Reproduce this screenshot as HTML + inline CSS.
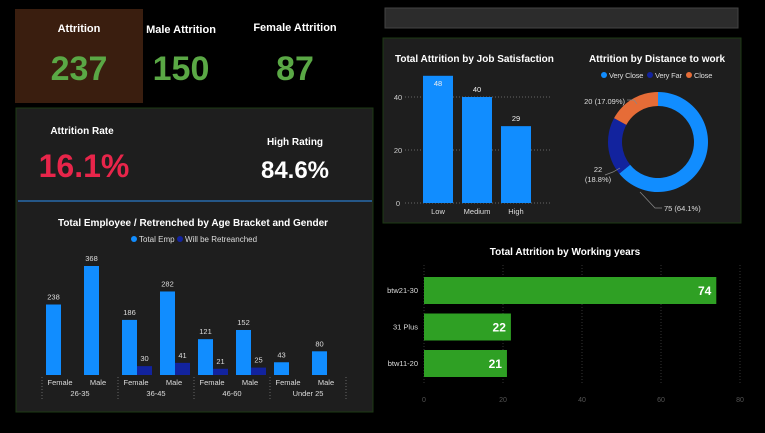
<!DOCTYPE html>
<html><head><meta charset="utf-8"><style>
body{margin:0;background:#000;width:765px;height:428px;overflow:hidden;font-family:"Liberation Sans",sans-serif;}
svg text{font-family:"Liberation Sans",sans-serif;}
</style></head><body>
<svg width="765" height="428" xmlns="http://www.w3.org/2000/svg">
<rect x="0" y="0" width="765" height="428" fill="#000"/>
<g>
<rect x="15" y="9" width="128" height="94" fill="#3a1e0f"/>
<text x="79" y="32" fill="#fff" font-size="11" font-weight="bold" text-anchor="middle">Attrition</text>
<text x="79" y="80" fill="#5aa845" font-size="34" font-weight="bold" text-anchor="middle">237</text>
<text x="181" y="33" fill="#fff" font-size="11" font-weight="bold" text-anchor="middle">Male Attrition</text>
<text x="181" y="80" fill="#5aa845" font-size="34" font-weight="bold" text-anchor="middle">150</text>
<text x="295" y="31" fill="#fff" font-size="11" font-weight="bold" text-anchor="middle">Female Attrition</text>
<text x="295" y="80" fill="#5aa845" font-size="34" font-weight="bold" text-anchor="middle">87</text>
</g>
<rect x="385" y="8" width="353" height="20" fill="#2c2c2c" stroke="#444"/>
<rect x="16" y="108" width="357" height="304" fill="#1e1e1e" stroke="#1d3a14"/>
<text x="82" y="134" fill="#fff" font-size="10" font-weight="bold" text-anchor="middle">Attrition Rate</text>
<text x="84" y="177" fill="#e8254a" font-size="32" font-weight="bold" text-anchor="middle">16.1%</text>
<text x="295" y="145" fill="#fff" font-size="10" font-weight="bold" text-anchor="middle">High Rating</text>
<text x="295" y="178" fill="#fff" font-size="24" font-weight="bold" text-anchor="middle">84.6%</text>
<line x1="18" y1="201" x2="372" y2="201" stroke="#2a7ac8" stroke-width="1.2"/>
<text x="193" y="226" fill="#fff" font-size="10" font-weight="bold" text-anchor="middle">Total Employee / Retrenched by Age Bracket and Gender</text>
<g>
<circle cx="134" cy="239" r="3" fill="#118dff"/><text x="139" y="242" fill="#ddd" font-size="8">Total Emp</text>
<circle cx="180" cy="239" r="3" fill="#12239e"/><text x="185" y="242" fill="#ddd" font-size="8">Will be Retreanched</text>
</g>
<g id="ageChart"></g>
<rect x="383" y="38" width="358" height="185" fill="#1e1e1e" stroke="#1d3a14"/>
<text x="395" y="62" fill="#fff" font-size="10" font-weight="bold">Total Attrition by Job Satisfaction</text>
<g id="jobChart"></g>
<text x="657" y="62" fill="#fff" font-size="10" font-weight="bold" text-anchor="middle">Attrition by Distance to work</text>
<g>
<circle cx="604" cy="75" r="3" fill="#118dff"/><text x="609" y="78" fill="#ddd" font-size="7.5" letter-spacing="-0.2">Very Close</text>
<circle cx="650" cy="75" r="3" fill="#12239e"/><text x="655" y="78" fill="#ddd" font-size="7.5" letter-spacing="-0.2">Very Far</text>
<circle cx="689" cy="75" r="3" fill="#e66c37"/><text x="694" y="78" fill="#ddd" font-size="7.5" letter-spacing="-0.2">Close</text>
</g>
<g id="donut"></g>
<text x="565" y="255" fill="#fff" font-size="10" font-weight="bold" text-anchor="middle">Total Attrition by Working years</text>
<g id="yearsChart"></g>
</svg>
<script>
const NS="http://www.w3.org/2000/svg";
function mk(p,tag,a,txt){const e=document.createElementNS(NS,tag);for(const k in a)e.setAttribute(k,a[k]);if(txt!==undefined)e.textContent=txt;p.appendChild(e);return e;}

const ageGroups=["26-35","36-45","46-60","Under 25"];
const genders=["Female","Male"];
const totalEmp=[238,368,186,282,121,152,43,80];
const retrenched=[null,null,30,41,21,25,null,null];

const ag=document.getElementById('ageChart');
const ageBase=375, ageScale=109/368;
const ay=v=>ageBase-v*ageScale;
const gx=i=>42+i*76;
for(let g=0;g<=ageGroups.length;g++){
  const l=mk(ag,'line',{x1:gx(g),y1:377,x2:gx(g),y2:399,stroke:'#666','stroke-dasharray':'1,2'});
  
  
}
ageGroups.forEach((grp,g)=>{
  const t=mk(ag,'text',{x:gx(g)+38,y:396,fill:'#ddd','font-size':'7.5','text-anchor':'middle'},grp);
  
  
  genders.forEach((gen,s)=>{
    const i=g*2+s, x0=gx(g)+4+s*38;
    const v=totalEmp[i];
    const b=mk(ag,'rect',{x:x0,y:ay(v),width:15,height:v*ageScale,fill:'#118dff'});
    
    
    mk(ag,'text',{x:x0+7.5,y:ay(v)-5,fill:'#ddd','font-size':'7.5','text-anchor':'middle'},v);
    const r=retrenched[i];
    if(r!=null){
      const rb=mk(ag,'rect',{x:x0+15,y:ay(r),width:15,height:r*ageScale,fill:'#12239e'});
      
      
      mk(ag,'text',{x:x0+22.5,y:ay(r)-5,fill:'#ddd','font-size':'7.5','text-anchor':'middle'},r);
    }
    const gl=mk(ag,'text',{x:x0+14,y:385,fill:'#ddd','font-size':'7.5','text-anchor':'middle'},gen);
    
    
  });
});

const jobCats=["Low","Medium","High"];
const jobVals=[48,40,29];
const jobTicks=[0,20,40];
const jg=document.getElementById('jobChart');
const jy=v=>203-v*2.65;
jobTicks.forEach(t=>{
  mk(jg,'line',{x1:405,y1:jy(t),x2:552,y2:jy(t),stroke:'#666','stroke-dasharray':'1,2'});
  const tl=mk(jg,'text',{x:398,y:jy(t)+3,fill:'#ccc','font-size':'7.5','text-anchor':'middle'},t);
  
  
});
jobCats.forEach((c,i)=>{
  const x0=423+i*39,v=jobVals[i];
  const b=mk(jg,'rect',{x:x0,y:jy(v),width:30,height:v*2.65,fill:'#118dff'});
  
  
  mk(jg,'text',{x:x0+15,y:(i==0?jy(v)+10:jy(v)-5),fill:'#eee','font-size':'7.5','text-anchor':'middle'},v);
  const l=mk(jg,'text',{x:x0+15,y:214,fill:'#ddd','font-size':'7.5','text-anchor':'middle'},c);
  
  
});

const distCats=["Very Close","Very Far","Close"];
const distVals=[75,22,20];
const distLabels=["75 (64.1%)","22 (18.8%)","20 (17.09%)"];
const distColors=["#118dff","#12239e","#e66c37"];
const dg=document.getElementById('donut');
const cx=658,cy=142,R=50,r=36;
const tot=distVals.reduce((a,b)=>a+b,0);
let ang=0;
distVals.forEach((v,i)=>{
  const a0=ang,a1=ang+v/tot*2*Math.PI;ang=a1;
  const p=(a,rr)=>[cx+rr*Math.sin(a),cy-rr*Math.cos(a)];
  const lg=(a1-a0)>Math.PI?1:0;
  const [x1,y1]=p(a0,R),[x2,y2]=p(a1,R),[x3,y3]=p(a1,r),[x4,y4]=p(a0,r);
  const s=mk(dg,'path',{d:`M${x1},${y1}A${R},${R} 0 ${lg} 1 ${x2},${y2}L${x3},${y3}A${r},${r} 0 ${lg} 0 ${x4},${y4}Z`,fill:distColors[i]});
  
  
});
mk(dg,'text',{x:664,y:211,fill:'#ddd','font-size':'7.5'},distLabels[0]);
mk(dg,'polyline',{points:'640,192 655,208 662,208',fill:'none',stroke:'#888','stroke-width':'0.7'});
mk(dg,'text',{x:598,y:172,fill:'#ddd','font-size':'7.5','text-anchor':'middle'},'22');
mk(dg,'text',{x:598,y:182,fill:'#ddd','font-size':'7.5','text-anchor':'middle'},'(18.8%)');
mk(dg,'polyline',{points:'605,175 613,172 620,168',fill:'none',stroke:'#888','stroke-width':'0.7'});
mk(dg,'text',{x:625,y:104,fill:'#ddd','font-size':'7.5','text-anchor':'end'},distLabels[2]);
mk(dg,'polyline',{points:'627,100 634,100 637,104',fill:'none',stroke:'#888','stroke-width':'0.7'});

const yearCats=["btw21-30","31 Plus","btw11-20"];
const yearVals=[74,22,21];
const yearTicks=[0,20,40,60,80];
const yg=document.getElementById('yearsChart');
const yx=v=>424+v*3.95;
yearTicks.forEach(t=>{
  mk(yg,'line',{x1:yx(t),y1:265,x2:yx(t),y2:385,stroke:'#333','stroke-dasharray':'1,2'});
  const tl=mk(yg,'text',{x:yx(t),y:402,fill:'#555','font-size':'7','text-anchor':'middle'},t);
  
  
});
yearCats.forEach((c,i)=>{
  const y0=277+i*36.5,v=yearVals[i];
  const b=mk(yg,'rect',{x:424,y:y0,width:yx(v)-424,height:27,fill:'#2fa024'});
  
  
  mk(yg,'text',{x:yx(v)-5,y:y0+18,fill:'#fff','font-size':'12','font-weight':'bold','text-anchor':'end'},v);
  const l=mk(yg,'text',{x:418,y:y0+16,fill:'#ddd','font-size':'7.5','text-anchor':'end'},c);
  
  
});
</script>
</body></html>
